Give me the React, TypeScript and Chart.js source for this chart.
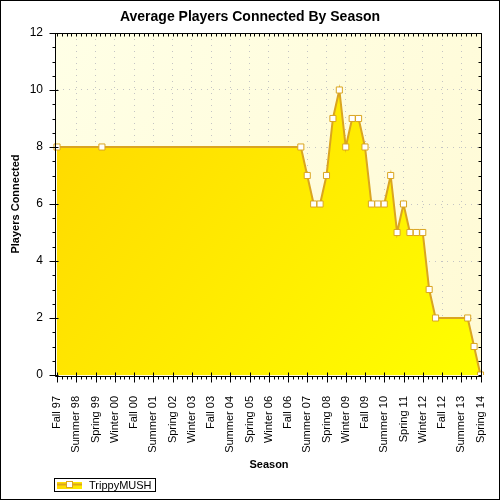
import React, { useEffect, useRef } from "react";
import { Chart, registerables } from "chart.js";

Chart.register(...registerables);

const seasons: string[] = [
  "Fall 97", "Winter 98", "Spring 98", "Summer 98", "Fall 98", "Winter 99", "Spring 99", "Summer 99",
  "Fall 99", "Winter 00", "Spring 00", "Summer 00", "Fall 00", "Winter 01", "Spring 01", "Summer 01",
  "Fall 01", "Winter 02", "Spring 02", "Summer 02", "Fall 02", "Winter 03", "Spring 03", "Summer 03",
  "Fall 03", "Winter 04", "Spring 04", "Summer 04", "Fall 04", "Winter 05", "Spring 05", "Summer 05",
  "Fall 05", "Winter 06", "Spring 06", "Summer 06", "Fall 06", "Winter 07", "Spring 07", "Summer 07",
  "Fall 07", "Winter 08", "Spring 08", "Summer 08", "Fall 08", "Winter 09", "Spring 09", "Summer 09",
  "Fall 09", "Winter 10", "Spring 10", "Summer 10", "Fall 10", "Winter 11", "Spring 11", "Summer 11",
  "Fall 11", "Winter 12", "Spring 12", "Summer 12", "Fall 12", "Winter 13", "Spring 13", "Summer 13",
  "Fall 13", "Winter 14", "Spring 14",
];

const playersConnected: (number | null)[] = [
  8, null, null, null, null, null, null, 8,
  null, null, null, null, null, null, null, null,
  null, null, null, null, null, null, null, null,
  null, null, null, null, null, null, null, null,
  null, null, null, null, null, null, 8, 7,
  6, 6, 7, 9, 10, 8, 9, 9,
  8, 6, 6, 6, 7, 5, 6, 5,
  5, 5, 3, 2, null, null, null, null,
  2, 1, 0,
];

const yMin = 0;
const yMax = 12;
const yStep = 2;

const chartTitle = "Average Players Connected By Season";
const xTitle = "Season";
const yTitle = "Players Connected";
const seriesName = "TrippyMUSH";

const FONT = '"Liberation Sans", Arial, sans-serif';
const GOLD = "#DAA520";
const GRID = "#C4C4C4";

const decorPlugin = {
  id: "decor",
  beforeDraw(chart: any) {
    const { ctx, chartArea: a } = chart;
    ctx.save();
    ctx.fillStyle = "#ffffff";
    ctx.fillRect(0, 0, chart.width, chart.height);
    const g = ctx.createLinearGradient(a.left, a.top, a.right, a.bottom);
    g.addColorStop(0, "#FFFFE6");
    g.addColorStop(1, "#FFFAD4");
    ctx.fillStyle = g;
    ctx.fillRect(55, 33, 427, 344);
    ctx.restore();
  },
  afterDatasetsDraw(chart: any) {
    const { ctx } = chart;
    const xs = chart.scales.x;
    const ys = chart.scales.y;
    const L = 55.5, R = 481.5, T = 33.5, B = 376.5;
    ctx.save();
    ctx.strokeStyle = "#000";
    ctx.lineWidth = 1;
    ctx.beginPath();
    ctx.rect(L, T, R - L, B - T);
    ctx.stroke();
    ctx.beginPath();
    const n = seasons.length - 1;
    for (let i = 0; i <= n; i += 3) {
      const px = Math.round(xs.getPixelForValue(i)) + 0.5;
      ctx.moveTo(px, B - 4);
      ctx.lineTo(px, B + 6);
      ctx.moveTo(px, T);
      ctx.lineTo(px, T + 3);
      if (i < n) {
        for (let k = 1; k <= 3; k++) {
          const mx = Math.round(xs.getPixelForValue(i + k * 0.75)) + 0.5;
          ctx.moveTo(mx, B);
          ctx.lineTo(mx, B + 3);
          ctx.moveTo(mx, T);
          ctx.lineTo(mx, T + 3);
        }
      }
    }
    for (let v = yMin; v <= yMax; v += 0.5) {
      const py = Math.round(ys.getPixelForValue(v)) + 0.5;
      if (v % yStep === 0) {
        ctx.moveTo(L - 6, py);
        ctx.lineTo(L + 3, py);
      } else {
        ctx.moveTo(L - 3, py);
        ctx.lineTo(L, py);
      }
      ctx.moveTo(R - 3, py);
      ctx.lineTo(R, py);
    }
    ctx.stroke();
    ctx.restore();
  },
  afterDraw(chart: any) {
    const { ctx } = chart;
    ctx.save();
    ctx.fillStyle = "#000";
    ctx.textAlign = "center";
    ctx.textBaseline = "middle";
    ctx.font = `bold 14px ${FONT}`;
    ctx.fillText(chartTitle, 250, 17.5);
    ctx.font = `bold 11px ${FONT}`;
    ctx.fillText(xTitle, 269, 465);
    ctx.save();
    ctx.translate(16, 204);
    ctx.rotate(-Math.PI / 2);
    ctx.fillText(yTitle, 0, 0);
    ctx.restore();

    // legend
    ctx.strokeStyle = "#000";
    ctx.lineWidth = 1;
    ctx.strokeRect(54.5, 478.5, 101, 13);
    const lg = ctx.createLinearGradient(57, 481, 82, 489);
    lg.addColorStop(0, "#FFD700");
    lg.addColorStop(1, "#FFEE00");
    ctx.fillStyle = lg;
    ctx.fillRect(57, 482, 25, 7);
    ctx.strokeStyle = GOLD;
    ctx.lineWidth = 2;
    ctx.beginPath();
    ctx.moveTo(57, 484.5);
    ctx.lineTo(82, 484.5);
    ctx.stroke();
    ctx.fillStyle = "#fff";
    ctx.lineWidth = 1;
    ctx.fillRect(66.5, 481.5, 6, 6);
    ctx.strokeRect(66.5, 481.5, 6, 6);
    ctx.fillStyle = "#000";
    ctx.textAlign = "left";
    ctx.font = `11px ${FONT}`;
    ctx.fillText(seriesName, 89, 485.5);

    ctx.strokeStyle = "#000";
    ctx.lineWidth = 1;
    ctx.strokeRect(0.5, 0.5, chart.width - 1, chart.height - 1);
    ctx.restore();
  },
};

export default function App() {
  const ref = useRef<HTMLCanvasElement | null>(null);

  useEffect(() => {
    document.body.style.margin = "0";
    const canvas = ref.current;
    if (!canvas) return;
    const chart = new Chart(canvas, {
      type: "line",
      data: {
        labels: seasons,
        datasets: [
          {
            label: seriesName,
            data: playersConnected,
            spanGaps: true,
            fill: "origin",
            tension: 0,
            borderColor: GOLD,
            borderWidth: 2,
            backgroundColor: (c: any) => {
              const ch = c.chart;
              const a = ch.chartArea;
              if (!a) return "#FFE600";
              const g = ch.ctx.createLinearGradient(a.left, a.top, a.right, a.bottom);
              g.addColorStop(0, "#FFD500");
              g.addColorStop(1, "#FFFF00");
              return g;
            },
            pointStyle: "rect",
            pointRadius: 4.3,
            pointHoverRadius: 4.3,
            pointBackgroundColor: "#ffffff",
            pointBorderColor: GOLD,
            pointBorderWidth: 1,
          },
        ],
      },
      options: {
        responsive: false,
        animation: false,
        events: [],
        layout: { padding: { left: 0, top: 33, right: 19.5, bottom: 25 } },
        plugins: {
          legend: { display: false },
          title: { display: false },
          tooltip: { enabled: false },
        },
        scales: {
          x: {
            type: "category",
            offset: false,
            afterFit: (s: any) => {
              s.height = 100;
              s.paddingLeft = 0;
              s.paddingRight = 0;
            },
            grid: {
              drawTicks: false,
              lineWidth: 1,
              color: (c: any) =>
                c.index % 3 === 0 && c.index !== 0 && c.index !== seasons.length - 1 ? GRID : "rgba(0,0,0,0)",
            },
            border: { display: false, dash: [1, 5] },
            ticks: {
              autoSkip: false,
              maxRotation: 90,
              minRotation: 90,
              padding: 21,
              color: "#000",
              font: { family: FONT, size: 11 },
              callback: (_v: any, i: number) => (i % 3 === 0 ? seasons[i] : ""),
            },
          },
          y: {
            type: "linear",
            min: yMin,
            max: yMax,
            afterFit: (s: any) => {
              s.width = 57;
              s.paddingTop = 0;
              s.paddingBottom = 0;
            },
            grid: {
              drawTicks: false,
              lineWidth: 1,
              color: (c: any) =>
                c.tick && (c.tick.value === yMin || c.tick.value === yMax) ? "rgba(0,0,0,0)" : GRID,
            },
            border: { display: false, dash: [1, 5] },
            ticks: {
              stepSize: yStep,
              padding: 14,
              color: "#000",
              font: { family: FONT, size: 12 },
            },
          },
        },
      },
      plugins: [decorPlugin],
    } as any);
    return () => chart.destroy();
  }, []);

  return (
    <div style={{ width: 500, height: 500 }}>
      <canvas ref={ref} width={500} height={500} style={{ display: "block" }} />
    </div>
  );
}
